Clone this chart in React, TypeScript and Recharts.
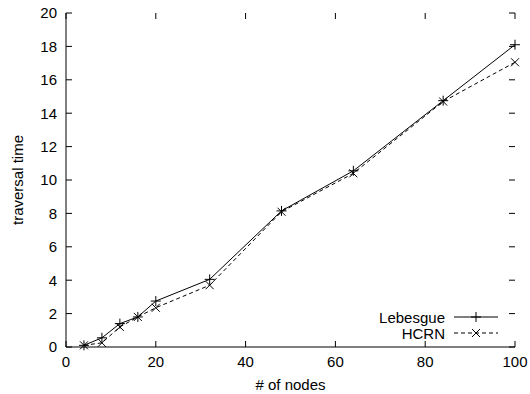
import React from 'react';
import { LineChart, Line, XAxis, YAxis, Label, Legend, ReferenceLine } from 'recharts';

const nodes = [4, 8, 12, 16, 20, 32, 48, 64, 84, 100];
const lebesgue = [0.1, 0.55, 1.4, 1.8, 2.75, 4.05, 8.15, 10.55, 14.75, 18.1];
const hcrn = [0.1, 0.25, 1.2, 1.8, 2.35, 3.7, 8.1, 10.4, 14.7, 17.05];
const xTicks = [0, 20, 40, 60, 80, 100];
const yTicks = [0, 2, 4, 6, 8, 10, 12, 14, 16, 18, 20];

const data = nodes.map((n, i) => ({ nodes: n, lebesgue: lebesgue[i], hcrn: hcrn[i] }));

const FONT = '"Liberation Sans", Arial, Helvetica, sans-serif';
const tickStyle = { fontSize: 15, fill: '#000', fontFamily: FONT };

// inward tick length, in data units (about 6px each way)
const X_TICK_LEN = 0.36;
const Y_TICK_LEN = 1.34;

const PlusDot = ({ cx, cy }: any) => {
  if (cx == null || cy == null) return null;
  return (
    <path d={`M${cx - 5},${cy}H${cx + 5}M${cx},${cy - 5}V${cy + 5}`} stroke="#000" strokeWidth={1} fill="none" />
  );
};

const CrossDot = ({ cx, cy }: any) => {
  if (cx == null || cy == null) return null;
  return (
    <path
      d={`M${cx - 4},${cy - 4}L${cx + 4},${cy + 4}M${cx - 4},${cy + 4}L${cx + 4},${cy - 4}`}
      stroke="#000"
      strokeWidth={1}
      fill="none"
    />
  );
};

const KeyBox = () => (
  <svg width={140} height={36} style={{ display: 'block', overflow: 'visible' }}>
    <g fontFamily={FONT} fontSize={15} fill="#000">
      <text x={75} y={12} textAnchor="end" dominantBaseline="central">Lebesgue</text>
      <text x={75} y={28} textAnchor="end" dominantBaseline="central">HCRN</text>
    </g>
    <line x1={84} x2={128} y1={12} y2={12} stroke="#000" strokeWidth={1} />
    <PlusDot cx={106} cy={12} />
    <line x1={84} x2={128} y1={28} y2={28} stroke="#000" strokeWidth={1} strokeDasharray="4 3" />
    <CrossDot cx={106} cy={28} />
  </svg>
);

export default function App() {
  return (
    <div style={{ position: 'absolute', left: 0, top: 0, background: '#fff' }}>
      <LineChart
        width={530}
        height={394}
        data={data}
        margin={{ top: 13, right: 15, bottom: 0, left: 0 }}
        style={{ fontFamily: FONT }}
      >
        <XAxis
          xAxisId="bottom"
          dataKey="nodes"
          type="number"
          domain={[0, 100]}
          ticks={xTicks}
          height={47}
          stroke="#000"
          tickLine={false}
          tickSize={0}
          tickMargin={9}
          tick={tickStyle}
          interval={0}
        >
          <Label value="# of nodes" position="insideBottom" offset={4} fill="#000" fontSize={15} fontFamily={FONT} />
        </XAxis>
        <XAxis
          xAxisId="top"
          orientation="top"
          dataKey="nodes"
          type="number"
          domain={[0, 100]}
          ticks={xTicks}
          height={0}
          stroke="#000"
          tickLine={false}
          tick={false}
        />
        <YAxis
          yAxisId="left"
          type="number"
          domain={[0, 20]}
          ticks={yTicks}
          width={66}
          stroke="#000"
          tickLine={false}
          tickSize={0}
          tickMargin={9}
          tick={tickStyle}
          interval={0}
        >
          <Label
            value="traversal time"
            angle={-90}
            position="insideLeft"
            offset={18}
            fill="#000"
            fontSize={15}
            fontFamily={FONT}
            style={{ textAnchor: 'middle' }}
          />
        </YAxis>
        <YAxis
          yAxisId="right"
          orientation="right"
          type="number"
          domain={[0, 20]}
          ticks={yTicks}
          width={0}
          stroke="#000"
          tickLine={false}
          tick={false}
        />

        {xTicks.map((t) => (
          <ReferenceLine
            key={`xb${t}`}
            xAxisId="bottom"
            yAxisId="left"
            segment={[{ x: t, y: 0 }, { x: t, y: X_TICK_LEN }]}
            stroke="#000"
            strokeWidth={1}
          />
        ))}
        {xTicks.map((t) => (
          <ReferenceLine
            key={`xt${t}`}
            xAxisId="bottom"
            yAxisId="left"
            segment={[{ x: t, y: 20 }, { x: t, y: 20 - X_TICK_LEN }]}
            stroke="#000"
            strokeWidth={1}
          />
        ))}
        {yTicks.map((t) => (
          <ReferenceLine
            key={`yl${t}`}
            xAxisId="bottom"
            yAxisId="left"
            segment={[{ x: 0, y: t }, { x: Y_TICK_LEN, y: t }]}
            stroke="#000"
            strokeWidth={1}
          />
        ))}
        {yTicks.map((t) => (
          <ReferenceLine
            key={`yr${t}`}
            xAxisId="bottom"
            yAxisId="left"
            segment={[{ x: 100, y: t }, { x: 100 - Y_TICK_LEN, y: t }]}
            stroke="#000"
            strokeWidth={1}
          />
        ))}

        <Legend
          layout="horizontal"
          verticalAlign="middle"
          align="center"
          content={() => <KeyBox />}
          wrapperStyle={{ position: 'absolute', left: 370, top: 305, width: 140, height: 36 }}
        />
        <Line
          xAxisId="bottom"
          yAxisId="left"
          type="linear"
          dataKey="lebesgue"
          name="Lebesgue"
          stroke="#000"
          strokeWidth={1}
          dot={<PlusDot />}
          activeDot={false}
          isAnimationActive={false}
        />
        <Line
          xAxisId="bottom"
          yAxisId="left"
          type="linear"
          dataKey="hcrn"
          name="HCRN"
          stroke="#000"
          strokeWidth={1}
          strokeDasharray="4 3"
          dot={<CrossDot />}
          activeDot={false}
          isAnimationActive={false}
        />
      </LineChart>
    </div>
  );
}
